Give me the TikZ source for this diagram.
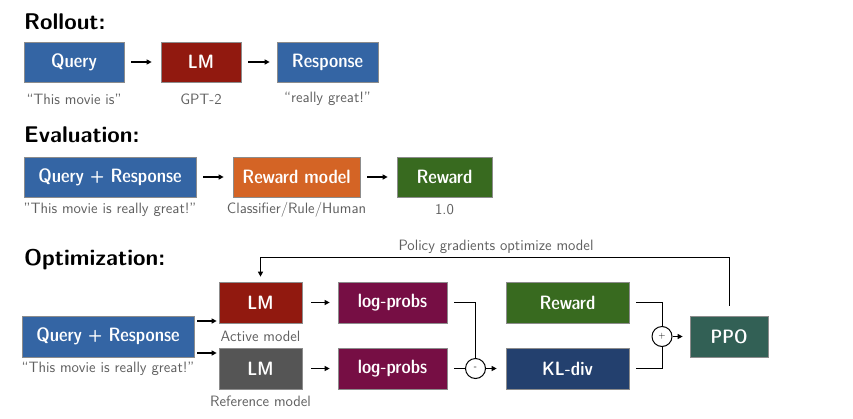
\documentclass[tikz,border=0pt]{standalone}
\usetikzlibrary{arrows.meta,calc}
\definecolor{cblue}{RGB}{52,101,164}
\definecolor{cred}{RGB}{145,25,15}
\definecolor{corange}{RGB}{212,100,37}
\definecolor{cgreen}{RGB}{56,106,31}
\definecolor{cpurple}{RGB}{118,14,68}
\definecolor{cnavy}{RGB}{35,64,110}
\definecolor{cteal}{RGB}{50,96,85}
\definecolor{cgray}{RGB}{85,85,85}
\definecolor{captc}{RGB}{95,95,95}
\begin{document}
\begin{tikzpicture}[x=1pt,y=-1pt,
  box/.style={draw=black!45,line width=0.7pt,text=white,minimum height=40pt,inner sep=0pt,
    font=\sffamily\fontseries{sbc}\fontsize{19.3}{21}\selectfont},
  ttl/.style={anchor=base west,inner sep=0pt,font=\sffamily\bfseries\fontsize{22.7}{26}\selectfont},
  captxt/.style={inner sep=0pt,text=captc,font=\sffamily\fontsize{15}{17}\selectfont},
  arr/.style={line width=1.2pt,-{Triangle[length=5pt,width=5pt]}},
  ln/.style={line width=1pt},
  op/.style={circle,draw,line width=1pt,minimum size=20pt,inner sep=0pt,font=\sffamily\fontsize{9}{10}\selectfont}]
\useasboundingbox (0,0) rectangle (853,418);
% Rollout
\node[ttl] (t1) at (24,29) {Rollout:};
\node[box,fill=cblue,minimum width=100pt] (q) at (74,62) {Query};
\node[box,fill=cred,minimum width=80pt] (lm) at (201,62) {LM};
\node[box,fill=cblue,minimum width=101pt] (r) at (327.5,62) {Response};
\node[captxt] (c1) at (74,99) {``This movie is''};
\node[captxt] (c2) at (201,99) {GPT-2};
\node[captxt] (c3) at (327.5,99) {``really great!''};
\draw[arr] ([xshift=7pt]q.east) -- ([xshift=-9pt]lm.west);
\draw[arr] ([xshift=7pt]lm.east) -- ([xshift=-7pt]r.west);
% Evaluation
\node[ttl] (t2) at (24,142) {Evaluation:};
\node[box,fill=cblue,minimum width=172pt] (qr) at (110,177) {Query + Response};
\node[box,fill=corange,minimum width=127pt] (rm) at (296.5,177) {Reward model};
\node[box,fill=cgreen,minimum width=95pt] (rw) at (444.5,177) {Reward};
\node[captxt] (c4) at (110,210) {"This movie is really great!"};
\node[captxt] (c5) at (296.5,210) {Classifier/Rule/Human};
\node[captxt] (c6) at (444.5,210) {1.0};
\draw[arr] ([xshift=7pt]qr.east) -- ([xshift=-9pt]rm.west);
\draw[arr] ([xshift=7pt]rm.east) -- ([xshift=-9pt]rw.west);
% Optimization
\node[ttl] (t3) at (24,265) {Optimization:};
\node[box,fill=cblue,minimum width=172pt,minimum height=41pt] (qr2) at (108,336.5) {Query + Response};
\node[captxt] (c7) at (108,369) {``This movie is really great!''};
\node[box,fill=cred,minimum width=83pt,minimum height=41pt] (lma) at (260.5,302.5) {LM};
\node[box,fill=cgray,minimum width=83pt,minimum height=41pt] (lmr) at (260.5,368.5) {LM};
\node[captxt] (c8) at (260.5,336) {Active model};
\node[captxt] (c9) at (260.5,401) {Reference model};
\node[box,fill=cpurple,minimum width=109pt,minimum height=41pt] (lp1) at (392.5,302.5) {log-probs};
\node[box,fill=cpurple,minimum width=109pt,minimum height=41pt] (lp2) at (392.5,368.5) {log-probs};
\node[op] (mi) at (475.5,368.5) {-};
\node[box,fill=cgreen,minimum width=123pt,minimum height=41pt] (rw2) at (567.5,302.5) {Reward};
\node[box,fill=cnavy,minimum width=123pt,minimum height=41pt] (kl) at (567.5,368.5) {KL-div};
\node[op] (pl) at (662,336.5) {+};
\node[box,fill=cteal,minimum width=78pt,minimum height=41pt] (ppo) at (729,336.5) {PPO};
\node[captxt] (pg) at (496,247) {Policy gradients optimize model};
\coordinate (ya) at (0,321);
\coordinate (yb) at (0,353);
\coordinate (fb) at (0,257);
\draw[arr] ($(qr2.east |- ya)+(3,0)$) -- ($(lma.west |- ya)+(-2,0)$);
\draw[arr] ($(qr2.east |- yb)+(3,0)$) -- ($(lmr.west |- yb)+(-2,0)$);
\draw[arr] ([xshift=9pt]lma.east) -- ([xshift=-8pt]lp1.west);
\draw[arr] ([xshift=9pt]lmr.east) -- ([xshift=-8pt]lp2.west);
\draw[ln] ([xshift=7pt]lp1.east) -| (mi.north);
\draw[ln] ([xshift=7pt]lp2.east) -- (mi.west);
\draw[arr] (mi.east) -- ([xshift=-9pt]kl.west);
\draw[ln] ([xshift=7pt]rw2.east) -| (pl.north);
\draw[ln] ([xshift=7pt]kl.east) -| (pl.south);
\draw[arr] (pl.east) -- ([xshift=-7pt]ppo.west);
\draw[arr,line width=1pt] ([yshift=10pt]ppo.north) -- (ppo.north |- fb) -- (lma.north |- fb) -- ([yshift=5pt]lma.north);
\end{tikzpicture}
\end{document}
